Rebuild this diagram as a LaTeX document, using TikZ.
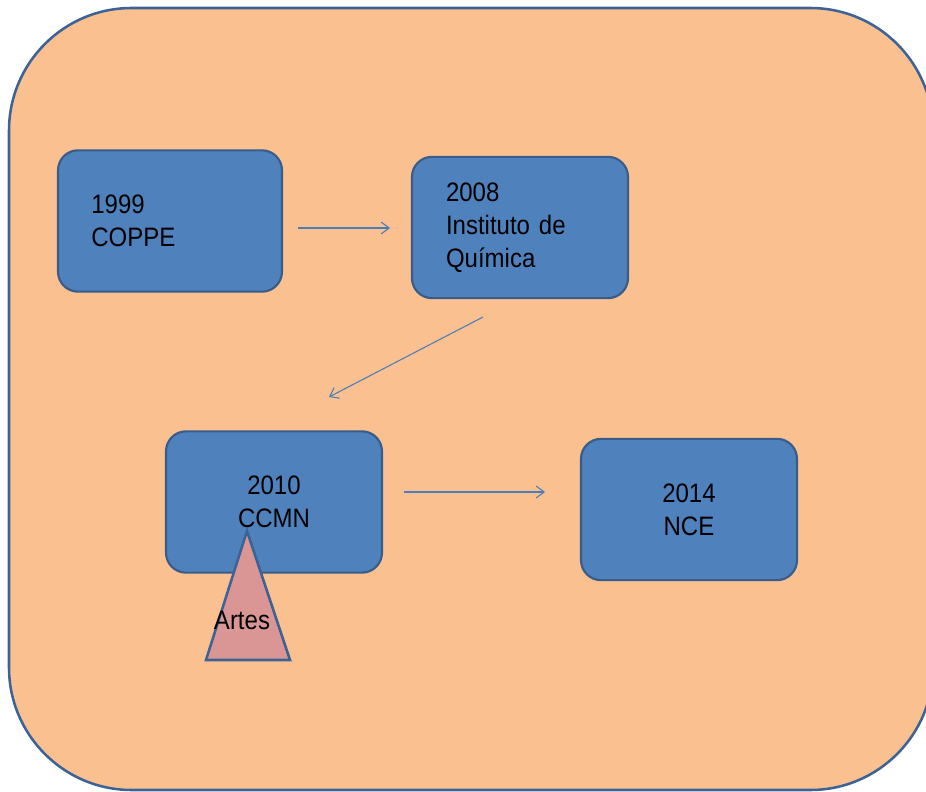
\documentclass[tikz,border=0pt]{standalone}
\usepackage{fontspec}
\setmainfont[FakeStretch=0.9]{Liberation Sans}
\usetikzlibrary{arrows.meta}
\definecolor{bgfill}{HTML}{FAC090}
\definecolor{frameline}{HTML}{3D6396}
\definecolor{boxfill}{HTML}{4F81BD}
\definecolor{boxline}{HTML}{385D8A}
\definecolor{arrowcol}{HTML}{4A7EBB}
\definecolor{trifill}{HTML}{D99694}
\tikzset{
  stagebox/.style={draw=boxline, fill=boxfill, line width=1.6pt, rounded corners=15pt,
    minimum width=162pt, minimum height=106pt, font=\fontsize{20}{24.8}\selectfont, text=black},
  leftbox/.style={stagebox, align=left, inner xsep=25.5pt, text width=117pt},
  midbox/.style={stagebox, align=center, text width=112pt},
  flow/.style={draw=arrowcol, line width=0.8pt, -{Straight Barb[length=6pt,width=9pt]}}
}
\begin{document}
\begin{tikzpicture}[x=0.75pt,y=-0.75pt]
\useasboundingbox (0,0) rectangle (926,792);
\draw[fill=bgfill, draw=frameline, line width=1.9pt, rounded corners=92pt] (9,8) rectangle (933,790);

\node[leftbox, inner xsep=25pt, text width=118pt] (coppe) at (170,221) {1999\\COPPE};
\node[leftbox, text width=111pt] (iq) at (520,227.5) {2008\\Instituto de\\Química};
\node[midbox] (ccmn) at (274,502) {2010\\CCMN};
\node[midbox] (nce) at (689,509.5) {2014\\NCE};

\coordinate (a1s) at (298,228);
\coordinate (a1e) at (390,228);
\coordinate (a2s) at (483,317);
\coordinate (a2e) at (329,397);
\coordinate (a3s) at (404,492);
\coordinate (a3e) at (545,492);
\draw[flow] (a1s) -- (a1e);
\draw[flow] (a2s) -- (a2e);
\draw[flow] (a3s) -- (a3e);

\coordinate (tapex) at (247,531);
\coordinate (tleft) at (206,660);
\coordinate (tright) at (290,660);
\draw[fill=trifill, draw=frameline, line width=1.9pt] (tapex) -- (tleft) -- (tright) -- cycle;
\node[font=\fontsize{20}{24}\selectfont, text=black] (artes) at (242,620) {Artes};
\end{tikzpicture}
\end{document}
